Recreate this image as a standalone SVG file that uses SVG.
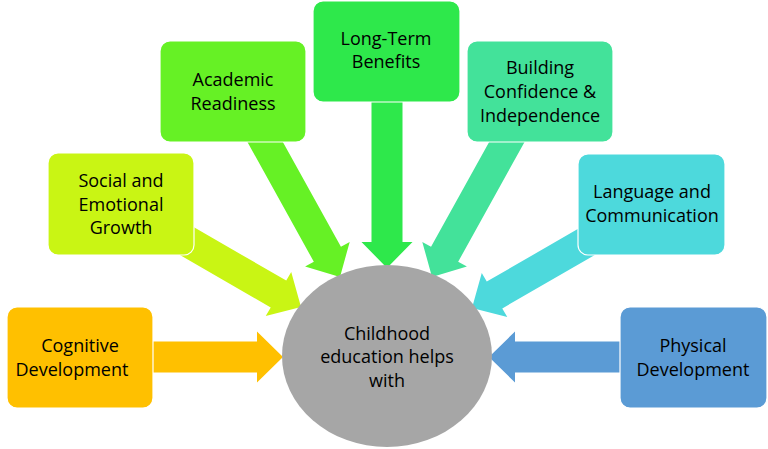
<svg xmlns="http://www.w3.org/2000/svg" width="768" height="449" viewBox="0 0 768 449">
<style>
.box{stroke:#ffffff;stroke-width:1.2}
.t{font-family:"Comic Sans MS","Open Sans","Liberation Sans",sans-serif;font-size:18px;fill:#000;text-anchor:middle}
</style>
<rect width="768" height="449" fill="#ffffff"/>
<g id="connectors">
<path transform="translate(283,357) rotate(0)" d="M-133,-15.5H-26V-25.5L0,0L-26,25.5V15.5H-133Z" fill="#FFC000"/>
<path transform="translate(301,307) rotate(30)" d="M-140,-15.5H-26V-25.5L0,0L-26,25.5V15.5H-140Z" fill="#C9F514"/>
<path transform="translate(340,277) rotate(61)" d="M-165,-15.5H-26V-25.5L0,0L-26,25.5V15.5H-165Z" fill="#66F125"/>
<path transform="translate(387,268) rotate(90)" d="M-173,-15.5H-26V-25.5L0,0L-26,25.5V15.5H-173Z" fill="#2EE84B"/>
<path transform="translate(432,277) rotate(119)" d="M-165,-15.5H-26V-25.5L0,0L-26,25.5V15.5H-165Z" fill="#43E29A"/>
<path transform="translate(472,308) rotate(150)" d="M-140,-15.5H-26V-25.5L0,0L-26,25.5V15.5H-140Z" fill="#4DD9DC"/>
<path transform="translate(489,357) rotate(180)" d="M-136,-15.5H-26V-25.5L0,0L-26,25.5V15.5H-136Z" fill="#5B9BD5"/>
</g>
<g id="center">
<ellipse cx="387" cy="356" rx="105" ry="91" fill="#A6A6A6"/>
<text class="t" x="387" y="340">Childhood</text>
<text class="t" x="387" y="363">education helps</text>
<text class="t" x="387" y="387">with</text>
</g>
<g id="cognitive">
<rect class="box" x="7" y="307" width="146" height="101" rx="10" fill="#FFC000"/>
<text class="t" x="80" y="352">Cognitive</text>
<text class="t" x="72" y="376">Development</text>
</g>
<g id="social">
<rect class="box" x="48" y="153" width="146" height="102" rx="10" fill="#C9F514"/>
<text class="t" x="121" y="187">Social and</text>
<text class="t" x="121" y="211">Emotional</text>
<text class="t" x="121" y="234">Growth</text>
</g>
<g id="academic">
<rect class="box" x="160" y="41" width="146" height="101" rx="10" fill="#66F125"/>
<text class="t" x="233" y="86">Academic</text>
<text class="t" x="233" y="110">Readiness</text>
</g>
<g id="longterm">
<rect class="box" x="313" y="1" width="147" height="101" rx="10" fill="#2EE84B"/>
<text class="t" x="386" y="45">Long-Term</text>
<text class="t" x="386" y="68">Benefits</text>
</g>
<g id="confidence">
<rect class="box" x="467" y="41" width="146" height="101" rx="10" fill="#43E29A"/>
<text class="t" x="540" y="74">Building</text>
<text class="t" x="540" y="98">Confidence &amp;</text>
<text class="t" x="540" y="122">Independence</text>
</g>
<g id="language">
<rect class="box" x="578" y="154" width="147" height="101" rx="10" fill="#4DD9DC"/>
<text class="t" x="652" y="198">Language and</text>
<text class="t" x="652" y="222">Communication</text>
</g>
<g id="physical">
<rect class="box" x="620" y="307" width="147" height="101" rx="10" fill="#5B9BD5"/>
<text class="t" x="693" y="352">Physical</text>
<text class="t" x="693" y="376">Development</text>
</g>
</svg>
